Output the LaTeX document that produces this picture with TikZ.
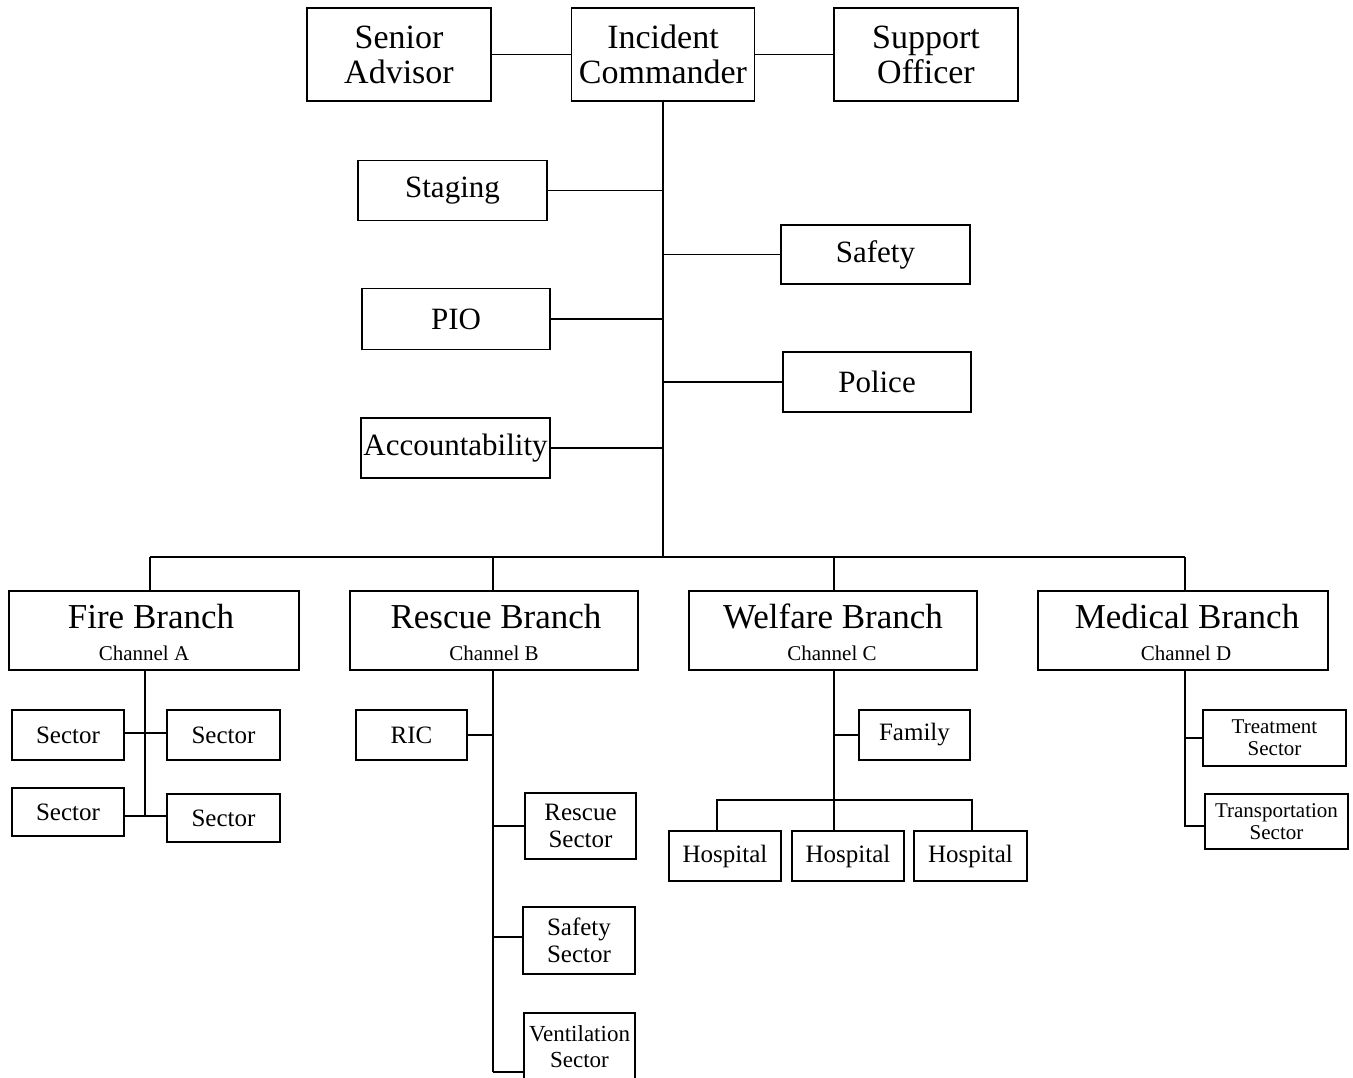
\documentclass[tikz,border=0pt]{standalone}
\usepackage{fontspec}
\setmainfont{Liberation Serif}
\newcommand\fTop{\fontsize{34}{35}\selectfont}
\newcommand\fMid{\fontsize{31}{33}\selectfont}
\newcommand\fBr{\fontsize{35}{36}\selectfont}
\newcommand\fCh{\fontsize{21}{22}\selectfont}
\newcommand\fSec{\fontsize{25}{27}\selectfont}
\newcommand\fVen{\fontsize{23}{26}\selectfont}
\newcommand\fMed{\fontsize{21}{22}\selectfont}
\begin{document}
\begin{tikzpicture}[x=1pt,y=-1pt,
  box/.style={draw,line width=1.8pt,rectangle,inner sep=0pt,align=center},
  conn/.style={line width=1.8pt},
  lbl/.style={inner sep=0pt,anchor=base}]
\useasboundingbox (0,0) rectangle (1353,1078);
\fill[white] (0,0) rectangle (1353,1078);

% top row
\node[box,font=\fTop,minimum width=184pt,minimum height=93pt] (SA) at (399,54.5) {Senior\\Advisor};
\node[box,font=\fTop,minimum width=183pt,minimum height=93pt] (IC) at (663,54.5) {Incident\\Commander};
\node[box,font=\fTop,minimum width=184pt,minimum height=93pt] (SO) at (926,54.5) {Support\\Officer};
\draw[conn] (SA.east) -- (IC.west);
\draw[conn] (IC.east) -- (SO.west);

% staff boxes
\node[box,font=\fMid,minimum width=189pt,minimum height=60pt] (ST) at (452.5,190.5) {Staging};
\node[box,font=\fMid,minimum width=189pt,minimum height=59pt] (SF) at (875.5,254.5) {Safety};
\node[box,font=\fMid,minimum width=188pt,minimum height=61pt] (PIO) at (456,319) {PIO};
\node[box,font=\fMid,minimum width=188pt,minimum height=60pt] (PO) at (877,382) {Police};
\node[box,font=\fMid,minimum width=189pt,minimum height=60pt] (AC) at (455.5,448) {Accountability};

% trunk and bus
\coordinate (bus) at (663,557);
\coordinate (bL) at (150,557);
\coordinate (bR) at (1185,557);
\draw[conn] (IC.south) -- (bus);
\draw[conn] (bL) -- (bR);
\draw[conn] (ST.east) -- (ST.east -| bus);
\draw[conn] (SF.west) -- (SF.west -| bus);
\draw[conn] (PIO.east) -- (PIO.east -| bus);
\draw[conn] (PO.west) -- (PO.west -| bus);
\draw[conn] (AC.east) -- (AC.east -| bus);

% branches
\node[box,minimum width=290pt,minimum height=79pt] (FB) at (154,630.5) {};
\node[box,minimum width=288pt,minimum height=79pt] (RB) at (494,630.5) {};
\node[box,minimum width=288pt,minimum height=79pt] (WB) at (833,630.5) {};
\node[box,minimum width=290pt,minimum height=79pt] (MB) at (1183,630.5) {};
\node[lbl,font=\fBr] (FBt) at (151,628) {Fire Branch};
\node[lbl,font=\fCh] (FBc) at (144,660) {Channel A};
\node[lbl,font=\fBr] (RBt) at (496,628) {Rescue Branch};
\node[lbl,font=\fCh] (RBc) at (494,660) {Channel B};
\node[lbl,font=\fBr] (WBt) at (833,628) {Welfare Branch};
\node[lbl,font=\fCh] (WBc) at (832,660) {Channel C};
\node[lbl,font=\fBr] (MBt) at (1187,628) {Medical Branch};
\node[lbl,font=\fCh] (MBc) at (1186,660) {Channel D};

\coordinate (dF) at (150,557);
\coordinate (dR) at (493,557);
\coordinate (dW) at (834,557);
\coordinate (dM) at (1185,557);
\draw[conn] (dF) -- (dF |- FB.north);
\draw[conn] (dR) -- (dR |- RB.north);
\draw[conn] (dW) -- (dW |- WB.north);
\draw[conn] (dM) -- (dM |- MB.north);

% fire subtree
\node[box,font=\fSec,minimum width=112pt,minimum height=50pt] (S1) at (68,735) {Sector};
\node[box,font=\fSec,minimum width=113pt,minimum height=50pt] (S2) at (223.5,735) {Sector};
\node[box,font=\fSec,minimum width=112pt,minimum height=48pt] (S3) at (68,812) {Sector};
\node[box,font=\fSec,minimum width=113pt,minimum height=48pt] (S4) at (223.5,818) {Sector};
\coordinate (fT) at (145,670);
\coordinate (fB) at (145,816);
\draw[conn] (fT) -- (fB);
\draw[conn] (S1.east |- 0,733) -- (S2.west |- 0,733);
\draw[conn] (S3.east |- fB) -- (S4.west |- fB);

% rescue subtree
\node[box,font=\fSec,minimum width=111pt,minimum height=50pt] (RIC) at (411.5,735) {RIC};
\node[box,font=\fSec,minimum width=111pt,minimum height=66pt] (RS) at (580.5,826) {Rescue\\Sector};
\node[box,font=\fSec,minimum width=112pt,minimum height=67pt] (SS) at (579,940.5) {Safety\\Sector};
\node[box,font=\fVen,minimum width=111pt,minimum height=68pt] (VS) at (579.5,1047) {Ventilation\\Sector};
\coordinate (rT) at (493,670);
\coordinate (rB) at (493,1072);
\draw[conn] (rT) -- (rB);
\draw[conn] (RIC.east) -- (RIC.east -| rT);
\draw[conn] (RS.west) -- (RS.west -| rT);
\draw[conn] (SS.west |- 0,937) -- (rT |- 0,937);
\draw[conn] (rB) -- (rB -| VS.west);

% welfare subtree
\node[box,font=\fSec,minimum width=111pt,minimum height=50pt] (FA) at (914.5,735) {Family};
\node[box,font=\fSec,minimum width=112pt,minimum height=50pt] (H1) at (725,856) {Hospital};
\node[box,font=\fSec,minimum width=112pt,minimum height=50pt] (H2) at (848,856) {Hospital};
\node[box,font=\fSec,minimum width=113pt,minimum height=50pt] (H3) at (970.5,856) {Hospital};
\coordinate (wT) at (834,670);
\coordinate (hL) at (717,800);
\coordinate (hR) at (972,800);
\draw[conn] (wT) -- (wT |- H2.north);
\draw[conn] (FA.west) -- (FA.west -| wT);
\draw[conn] (hL |- H1.north) -- (hL) -- (hR) -- (hR |- H3.north);

% medical subtree
\node[box,font=\fMed,minimum width=143pt,minimum height=56pt] (TS) at (1274.5,738) {Treatment\\Sector};
\node[box,font=\fMed,minimum width=143pt,minimum height=55pt] (TR) at (1276.5,821.5) {Transportation\\Sector};
\coordinate (mT) at (1185,670);
\coordinate (mB) at (1185,826);
\draw[conn] (mT) -- (mB) -- (mB -| TR.west);
\draw[conn] (TS.west) -- (TS.west -| mT);
\end{tikzpicture}
\end{document}
